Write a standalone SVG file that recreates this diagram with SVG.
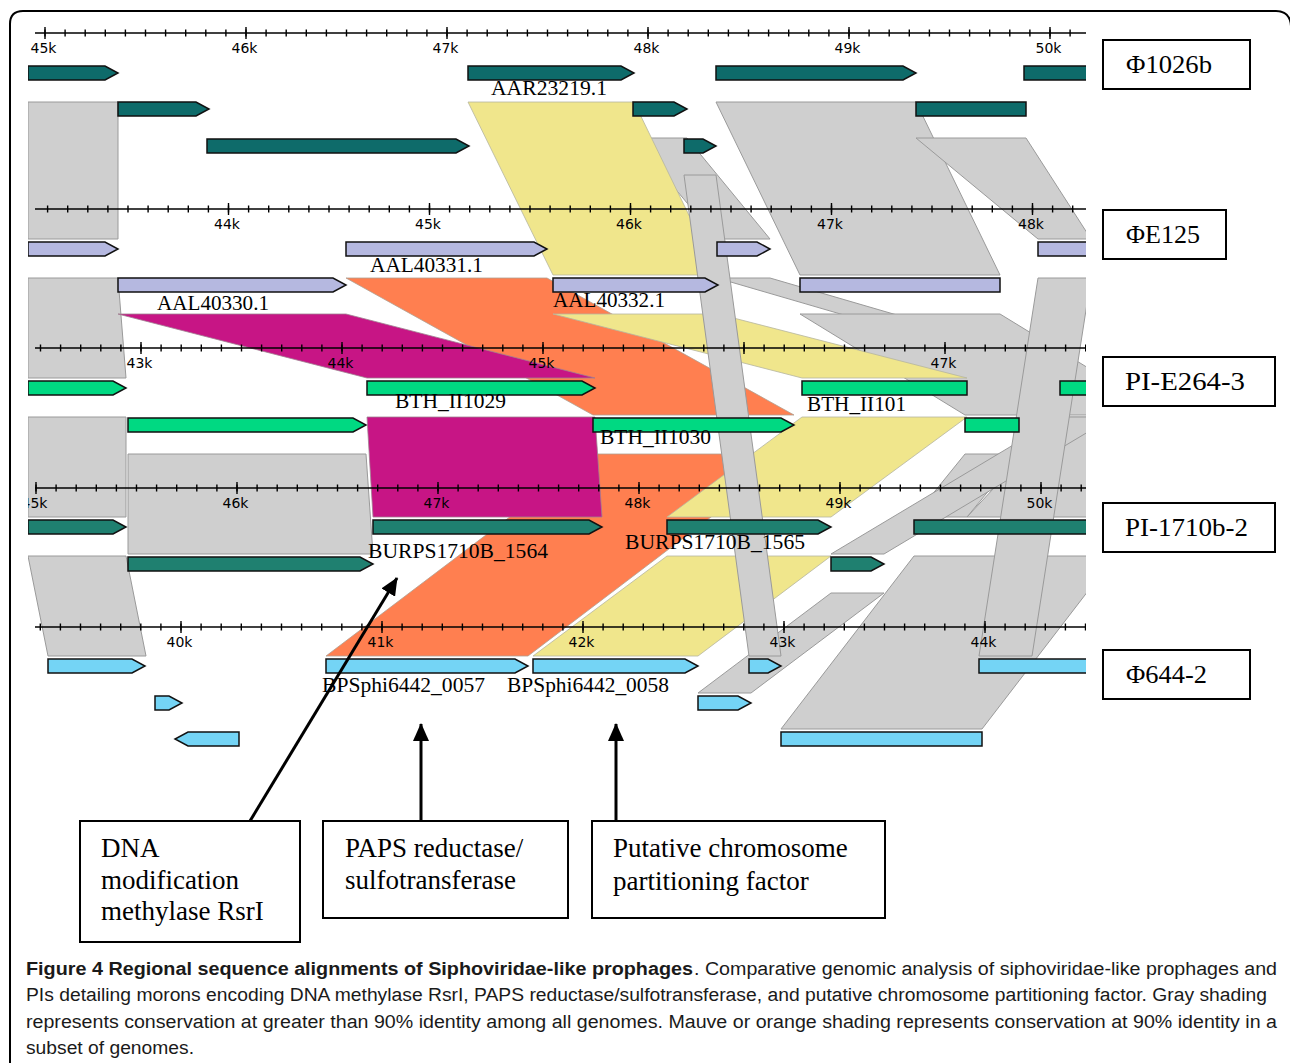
<svg xmlns="http://www.w3.org/2000/svg" width="1290" height="1063" viewBox="0 0 1290 1063">
<defs>
<style>
.ax{stroke:#000;stroke-width:1.4;fill:none}
.tk{stroke:#000;stroke-width:7;stroke-dasharray:1.4 18.7;fill:none}
.tM{stroke:#000;stroke-width:12;stroke-dasharray:1.4 199.6;fill:none}
.kl{font-family:"DejaVu Sans",sans-serif;font-size:14px;fill:#000;text-anchor:middle}
.gr{fill:#cfcfcf;stroke:#9a9a9a;stroke-width:1}
.ye{fill:#f0e68c;stroke:#b5b5a0;stroke-width:0.8}
.or{fill:#ff7f50;stroke:#b0a090;stroke-width:0.8}
.mg{fill:#c71585;stroke:#a08090;stroke-width:0.8}
.g{stroke:#111;stroke-width:1.5;stroke-linejoin:miter}
.g1{fill:#0e6b6a}.g2{fill:#b5b8e0}.g3{fill:#00d982}.g4{fill:#1f8070}.g5{fill:#74d4f5}
.gl{font-family:"Liberation Serif","Times New Roman",serif;font-size:21px;fill:#000}
.bx{fill:#fff;stroke:#000;stroke-width:2}
.bt{font-family:"Liberation Serif","Times New Roman",serif;font-size:26px;fill:#000}
.at{font-family:"Liberation Serif","Times New Roman",serif;font-size:27px;fill:#000}
.cap{font-family:"Liberation Sans",Arial,sans-serif;font-size:18px;fill:#1a1a1a}
.cb{font-weight:bold}
.arr{stroke:#000;stroke-width:3;fill:none}
</style>
<clipPath id="pc"><rect x="28" y="0" width="1058" height="800"/></clipPath>
<marker id="ah" markerUnits="userSpaceOnUse" markerWidth="18" markerHeight="16" refX="17" refY="8" orient="auto">
<path d="M0,0 L18,8 L0,16 Z" fill="#000"/>
</marker>
</defs>

<path d="M10,1063 V24 Q10,11 23,11 H1276 Q1290,11 1291,26 V1063" fill="none" stroke="#000" stroke-width="2"/>

<g clip-path="url(#pc)">
<g id="alignments">
<polygon class="gr" points="28,102 118,102 118,239 28,239"/>
<polygon class="gr" points="716,102 916,102 1000,275 800,275"/>
<polygon class="gr" points="633,138 687,138 770,239 717,239"/>
<polygon class="gr" points="916,138 1026,138 1091,239 1038,239"/>
<polygon class="gr" points="28,278 118,278 126,378 28,378"/>
<polygon class="gr" points="717,278 770,278 1113,378 1060,378"/>
<polygon class="gr" points="800,314 1000,314 1165,415 965,415"/>
<polygon class="gr" points="28,417 126,417 126,517 28,517"/>
<polygon class="gr" points="128,454 366,454 373,554 128,554"/>
<polygon class="gr" points="1060,417 1260,417 1167,517 967,517"/>
<polygon class="gr" points="965,454 1019,454 967,517 914,517"/>
<polygon class="gr" points="1060,417 1113,417 884,554 831,554"/>
<polygon class="gr" points="28,556 126,556 146,656 48,656"/>
<polygon class="gr" points="831,593 884,593 751,693 698,693"/>
<polygon class="gr" points="914,556 1115,556 982,729 781,729"/>
<polygon class="or" points="346,278 547,278 794,415 593,415"/>
<polygon class="or" points="593,454 794,454 528,656 326,656"/>
<polygon class="ye" points="468,102 634,102 718,275 553,275"/>
<polygon class="ye" points="553,314 718,314 967,378 802,378"/>
<polygon class="ye" points="802,417 967,417 831,517 667,517"/>
<polygon class="ye" points="667,556 831,556 698,656 533,656"/>
<polygon class="mg" points="118,314 346,314 595,378 367,378"/>
<polygon class="mg" points="367,417 595,417 602,517 373,517"/>
<polygon class="gr" points="684,175 716,175 781,656 749,656"/>
<polygon class="gr" points="1038,278 1091,278 1032,656 979,656"/>
</g>

<g id="axes">
<line class="ax" x1="35" y1="33" x2="1086" y2="33"/>
<line class="tk" x1="44.3" y1="33" x2="1086" y2="33"/>
<line class="tM" x1="44.3" y1="33" x2="1086" y2="33"/>
<line class="ax" x1="35" y1="209" x2="1086" y2="209"/>
<line class="tk" x1="46.9" y1="209" x2="1086" y2="209"/>
<line class="tM" x1="227.8" y1="209" x2="1086" y2="209"/>
<line class="ax" x1="35" y1="348" x2="1086" y2="348"/>
<line class="tk" x1="39.8" y1="348" x2="1086" y2="348"/>
<line class="tM" x1="140.3" y1="348" x2="1086" y2="348"/>
<line class="ax" x1="35" y1="488" x2="1086" y2="488"/>
<line class="tk" x1="35.3" y1="488" x2="1086" y2="488"/>
<line class="tM" x1="35.3" y1="488" x2="1086" y2="488"/>
<line class="ax" x1="35" y1="627" x2="1086" y2="627"/>
<line class="tk" x1="39.6" y1="627" x2="1086" y2="627"/>
<line class="tM" x1="180.3" y1="627" x2="1086" y2="627"/>
<g class="kl">
<text x="43.5" y="53">45k</text><text x="244.5" y="53">46k</text><text x="445.5" y="53">47k</text><text x="646.5" y="53">48k</text><text x="847.5" y="53">49k</text><text x="1048.5" y="53">50k</text>
<text x="227" y="229">44k</text><text x="428" y="229">45k</text><text x="629" y="229">46k</text><text x="830" y="229">47k</text><text x="1031" y="229">48k</text>
<text x="139.5" y="368">43k</text><text x="340.5" y="368">44k</text><text x="541.5" y="368">45k</text><text x="943.5" y="368">47k</text>
<text x="34.5" y="508">45k</text><text x="235.5" y="508">46k</text><text x="436.5" y="508">47k</text><text x="637.5" y="508">48k</text><text x="838.5" y="508">49k</text><text x="1039.5" y="508">50k</text>
<text x="179.5" y="647">40k</text><text x="380.5" y="647">41k</text><text x="581.5" y="647">42k</text><text x="782.5" y="647">43k</text><text x="983.5" y="647">44k</text>
</g>
</g>

<g id="genes-phi1026b" class="g g1">
<path d="M28 66H105L118 73L105 80H28Z"/>
<path id="gene-AAR23219" d="M468 66H621L634 73L621 80H468Z"/>
<path d="M716 66H903L916 73L903 80H716Z"/>
<path d="M1024 66H1100V80H1024Z"/>
<path d="M118 102H196L209 109L196 116H118Z"/>
<path d="M633 102H674L687 109L674 116H633Z"/>
<path d="M916 102H1026V116H916Z"/>
<path d="M207 139H456L469 146L456 153H207Z"/>
<path d="M684 139H703L716 146L703 153H684Z"/>
</g>
<g id="genes-phiE125" class="g g2">
<path d="M28 242H105L118 249L105 256H28Z"/>
<path d="M346 242H534L547 249L534 256H346Z"/>
<path d="M717 242H757L770 249L757 256H717Z"/>
<path d="M1038 242H1100V256H1038Z"/>
<path d="M118 278H333L346 285L333 292H118Z"/>
<path d="M553 278H705L718 285L705 292H553Z"/>
<path d="M800 278H1000V292H800Z"/>
</g>
<g id="genes-PI-E264-3" class="g g3">
<path d="M28 381H113L126 388L113 395H28Z"/>
<path d="M367 381H582L595 388L582 395H367Z"/>
<path d="M802 381H967V395H802Z"/>
<path d="M1060 381H1100V395H1060Z"/>
<path d="M128 418H353L366 425L353 432H128Z"/>
<path d="M593 418H781L794 425L781 432H593Z"/>
<path d="M965 418H1019V432H965Z"/>
</g>
<g id="genes-PI-1710b-2" class="g g4">
<path d="M28 520H113L126 527L113 534H28Z"/>
<path d="M373 520H589L602 527L589 534H373Z"/>
<path d="M667 520H818L831 527L818 534H667Z"/>
<path d="M914 520H1100V534H914Z"/>
<path d="M128 557H360L373 564L360 571H128Z"/>
<path d="M831 557H871L884 564L871 571H831Z"/>
</g>
<g id="genes-phi644-2" class="g g5">
<path d="M48 659H132L145 666L132 673H48Z"/>
<path d="M326 659H515L528 666L515 673H326Z"/>
<path d="M533 659H685L698 666L685 673H533Z"/>
<path d="M749 659H768L781 666L768 673H749Z"/>
<path d="M979 659H1100V673H979Z"/>
<path d="M155 696H169L182 703L169 710H155Z"/>
<path d="M698 696H738L751 703L738 710H698Z"/>
<path d="M239 732H188L175 739L188 746H239Z"/>
<path d="M781 732H982V746H781Z"/>
</g>
</g>

<g id="gene-labels" class="gl">
<text x="491" y="95" textLength="116" lengthAdjust="spacingAndGlyphs">AAR23219.1</text>
<text x="370" y="272" textLength="113" lengthAdjust="spacingAndGlyphs">AAL40331.1</text>
<text x="157" y="310" textLength="112" lengthAdjust="spacingAndGlyphs">AAL40330.1</text>
<text x="553" y="307" textLength="112" lengthAdjust="spacingAndGlyphs">AAL40332.1</text>
<text x="395" y="408" textLength="111" lengthAdjust="spacingAndGlyphs">BTH_II1029</text>
<text x="807" y="411" textLength="99" lengthAdjust="spacingAndGlyphs">BTH_II101</text>
<text x="600" y="444" textLength="111" lengthAdjust="spacingAndGlyphs">BTH_II1030</text>
<text x="368" y="558" textLength="180" lengthAdjust="spacingAndGlyphs">BURPS1710B_1564</text>
<text x="625" y="549" textLength="180" lengthAdjust="spacingAndGlyphs">BURPS1710B_1565</text>
<text x="322" y="692" textLength="163" lengthAdjust="spacingAndGlyphs">BPSphi6442_0057</text>
<text x="507" y="692" textLength="162" lengthAdjust="spacingAndGlyphs">BPSphi6442_0058</text>
</g>

<g id="node-phi1026b"><rect class="bx" x="1103" y="40" width="147" height="49"/><text class="bt" x="1126" y="73" textLength="86" lengthAdjust="spacingAndGlyphs">Φ1026b</text></g>
<g id="node-phiE125"><rect class="bx" x="1103" y="210" width="123" height="49"/><text class="bt" x="1126" y="243" textLength="74" lengthAdjust="spacingAndGlyphs">ΦE125</text></g>
<g id="node-PI-E264-3"><rect class="bx" x="1103" y="357" width="172" height="49"/><text class="bt" x="1125" y="390" textLength="120" lengthAdjust="spacingAndGlyphs">PI-E264-3</text></g>
<g id="node-PI-1710b-2"><rect class="bx" x="1103" y="503" width="172" height="49"/><text class="bt" x="1125" y="536" textLength="123" lengthAdjust="spacingAndGlyphs">PI-1710b-2</text></g>
<g id="node-phi644-2"><rect class="bx" x="1103" y="650" width="147" height="49"/><text class="bt" x="1126" y="683" textLength="81" lengthAdjust="spacingAndGlyphs">Φ644-2</text></g>

<g id="connectors">
<line class="arr" x1="250" y1="821" x2="397" y2="578" marker-end="url(#ah)"/>
<line class="arr" x1="421" y1="821" x2="421" y2="724" marker-end="url(#ah)"/>
<line class="arr" x1="616" y1="821" x2="616" y2="724" marker-end="url(#ah)"/>
</g>

<g id="node-methylase"><rect class="bx" x="80" y="821" width="220" height="121"/>
<text class="at" x="101" y="857">DNA</text><text class="at" x="101" y="889">modification</text><text class="at" x="101" y="920">methylase RsrI</text></g>
<g id="node-paps"><rect class="bx" x="323" y="821" width="245" height="97"/>
<text class="at" x="345" y="857">PAPS reductase/</text><text class="at" x="345" y="889">sulfotransferase</text></g>
<g id="node-partition"><rect class="bx" x="592" y="821" width="293" height="97"/>
<text class="at" x="613" y="857">Putative chromosome</text><text class="at" x="613" y="890">partitioning factor</text></g>

<g id="caption" class="cap">
<text class="cb" x="26" y="975" textLength="667" lengthAdjust="spacingAndGlyphs">Figure 4 Regional sequence alignments of Siphoviridae-like prophages</text>
<text x="694" y="975" textLength="583" lengthAdjust="spacingAndGlyphs">. Comparative genomic analysis of siphoviridae-like prophages and</text>
<text x="26" y="1001" textLength="1241" lengthAdjust="spacingAndGlyphs">PIs detailing morons encoding DNA methylase RsrI, PAPS reductase/sulfotransferase, and putative chromosome partitioning factor. Gray shading</text>
<text x="26" y="1028" textLength="1251" lengthAdjust="spacingAndGlyphs">represents conservation at greater than 90% identity among all genomes. Mauve or orange shading represents conservation at 90% identity in a</text>
<text x="26" y="1054" textLength="168" lengthAdjust="spacingAndGlyphs">subset of genomes.</text>
</g>
</svg>
